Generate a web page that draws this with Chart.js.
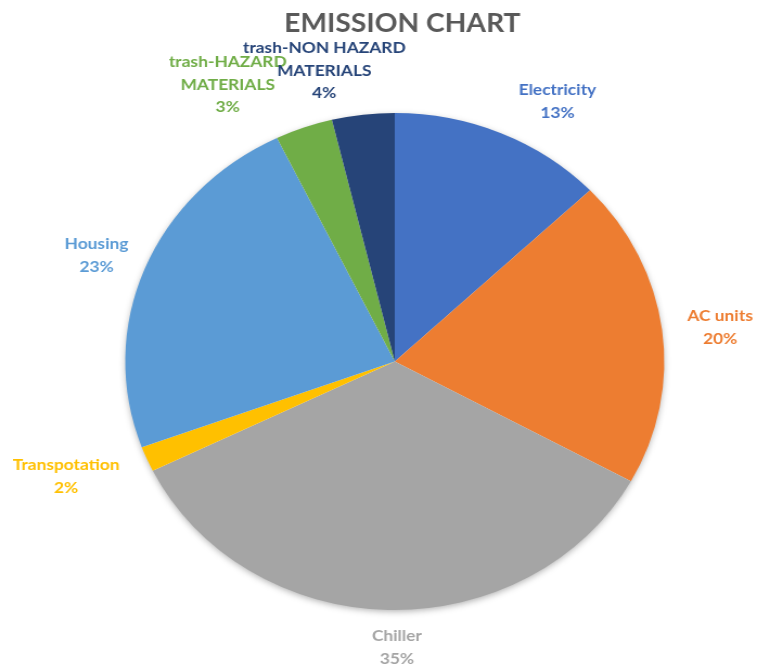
<!DOCTYPE html>
<html>
<head>
<meta charset="utf-8">
<script src="https://cdn.jsdelivr.net/npm/chart.js@4.4.0/dist/chart.umd.min.js"></script>
<style>
  html, body { margin: 0; padding: 0; background: #fff; overflow: hidden; }
</style>
</head>
<body>
<!-- drawn at 698 wide, stretched to 757 like the source picture -->
<canvas id="emissionChart" width="698" height="668" style="display:block;width:757px;height:668px"></canvas>
<script>
const TITLE = 'EMISSION CHART';
const CATEGORIES = ['Electricity', 'AC units', 'Chiller', 'Transpotation', 'Housing',
                    'trash-HAZARD MATERIALS', 'trash-NON HAZARD MATERIALS'];
const LABEL_LINES = [['Electricity'], ['AC units'], ['Chiller'], ['Transpotation'], ['Housing'],
                     ['trash-HAZARD', 'MATERIALS'], ['trash-NON HAZARD', 'MATERIALS']];
const SHARES = [12.9, 20.1, 34.75, 1.65, 23.4, 3.45, 3.75];
const COLORS = ['#4472C4', '#ED7D31', '#A5A5A5', '#FFC000', '#5B9BD5', '#70AD47', '#264478'];

// label block centres, relative to the pie centre
const LABEL_OFFSET = [
  [150, -260], [300, -34], [2, 286], [-303, 115],
  [-275, -106], [-154, -277], [-65, -291]
];

const FONT = 'Lato, "Open Sans", sans-serif';

// ── SOFT SHADOW UNDER THE PIE ──────────────────────
const shadowPlugin = {
  id: 'pieShadow',
  beforeDatasetsDraw(chart) {
    const arc = chart.getDatasetMeta(0).data[0];
    if (!arc) return;
    const ctx = chart.ctx;
    ctx.save();
    ctx.shadowColor = 'rgba(0,0,0,0.35)';
    ctx.shadowBlur = 7;
    ctx.shadowOffsetY = 2;
    ctx.fillStyle = '#ffffff';
    ctx.beginPath();
    ctx.arc(arc.x, arc.y, arc.outerRadius - 1, 0, Math.PI * 2);
    ctx.fill();
    ctx.restore();
  }
};

// ── OUTSIDE LABELS + TITLE ─────────────────────────
const labelPlugin = {
  id: 'outsideLabels',
  afterDraw(chart) {
    const ctx  = chart.ctx;
    const meta = chart.getDatasetMeta(0);
    const total = SHARES.reduce((a, b) => a + b, 0);
    ctx.save();
    ctx.textAlign = 'center';
    ctx.textBaseline = 'middle';

    ctx.fillStyle = '#595959';
    ctx.font = `bold 26px ${FONT}`;
    ctx.fillText(TITLE, 371, 24);

    ctx.font = `bold 16px ${FONT}`;
    meta.data.forEach((arc, i) => {
      const lines = [...LABEL_LINES[i], Math.round(SHARES[i] / total * 100) + '%'];
      const lh = 22.5;
      const cx = arc.x + LABEL_OFFSET[i][0];
      const y0 = arc.y + LABEL_OFFSET[i][1] - (lines.length - 1) * lh / 2;
      ctx.fillStyle = COLORS[i];
      lines.forEach((t, k) => ctx.fillText(t, cx, y0 + k * lh));
    });
    ctx.restore();
  }
};

new Chart(document.getElementById('emissionChart'), {
  type: 'pie',
  data: {
    labels: CATEGORIES,
    datasets: [{
      data: SHARES,
      backgroundColor: COLORS,
      borderWidth: 0
    }]
  },
  options: {
    responsive: false,
    animation: false,
    devicePixelRatio: 1,
    layout: { padding: { top: 113, bottom: 58, left: 104, right: 74 } },
    plugins: {
      legend:  { display: false },
      tooltip: { enabled: false },
      title:   { display: false }
    }
  },
  plugins: [shadowPlugin, labelPlugin]
});
</script>
</body>
</html>
